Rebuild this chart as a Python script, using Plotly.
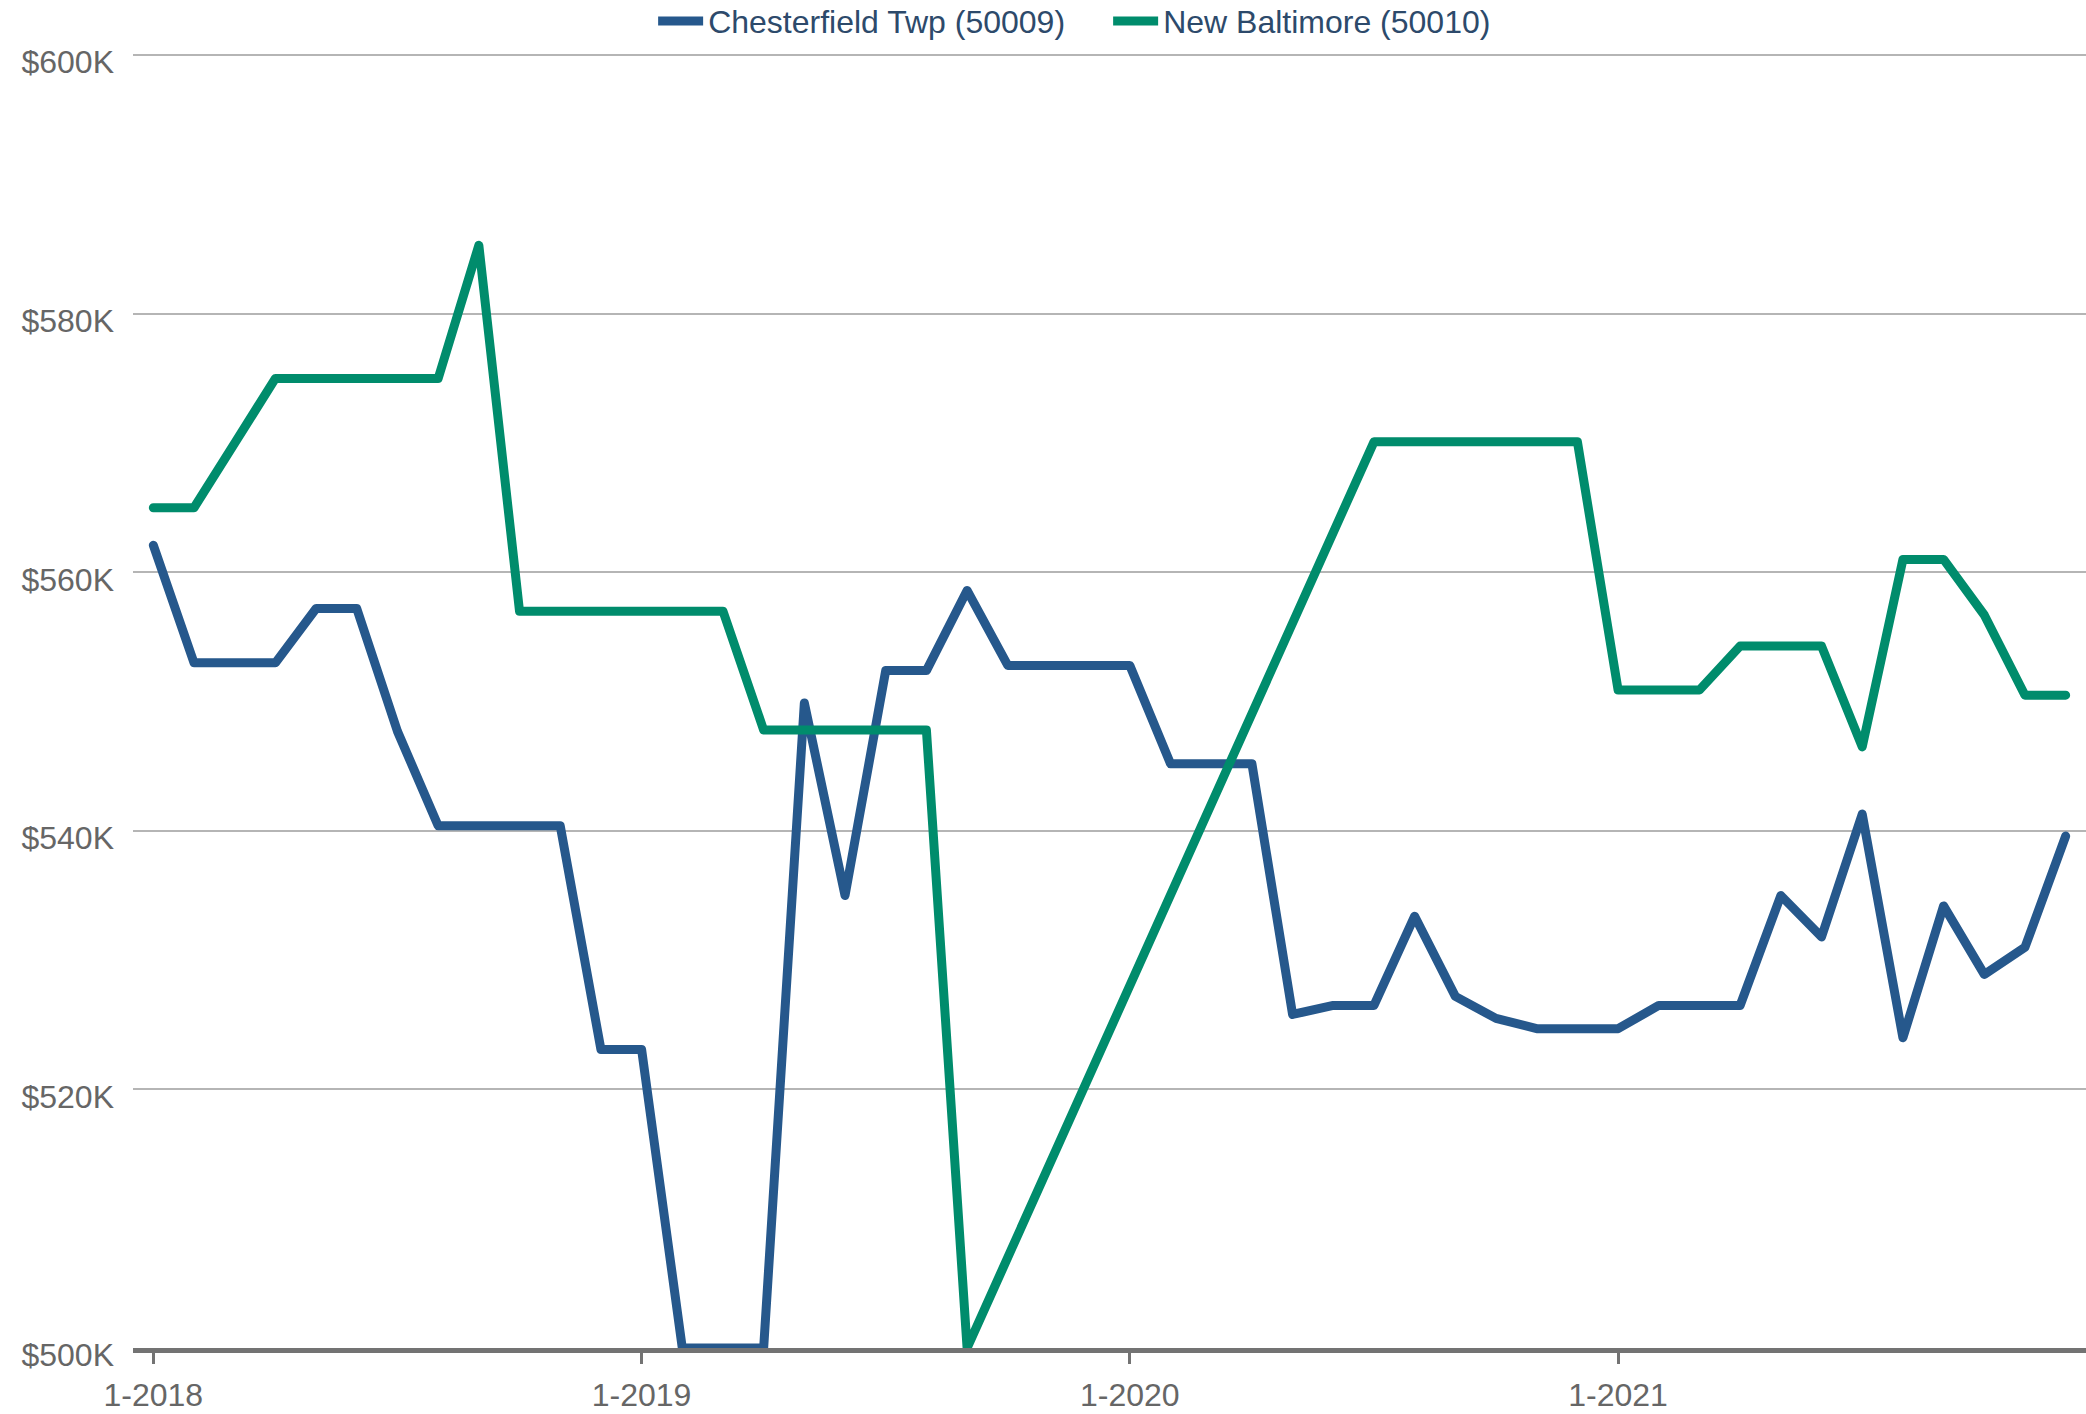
import plotly.graph_objects as go

# Monthly categories, Jan 2018 .. Dec 2021
years = [2018, 2019, 2020, 2021]
months = [f"{m}-{y}" for y in years for m in range(1, 13)]

tick_vals = ["1-2018", "1-2019", "1-2020", "1-2021"]
tick_text = ["1-2018", "1-2019", "1-2020", "1-2021"]

y_tick_vals = [500, 520, 540, 560, 580, 600]
y_tick_text = ["$500K", "$520K", "$540K", "$560K", "$580K", "$600K"]

# Values in $K
chesterfield = [
    562.1, 553.0, 553.0, 553.0, 557.2, 557.2, 547.7, 540.4, 540.4, 540.4, 540.4, 523.1,
    523.1, 500.0, 500.0, 500.0, 549.9, 535.0, 552.4, 552.4, 558.6, 552.8, 552.8, 552.8,
    552.8, 545.2, 545.2, 545.2, 525.8, 526.5, 526.5, 533.4, 527.2, 525.5, 524.7, 524.7,
    524.7, 526.5, 526.5, 526.5, 535.0, 531.8, 541.3, 524.0, 534.2, 528.9, 531.0, 539.6,
]
new_baltimore = [
    565.0, 565.0, 570.0, 575.0, 575.0, 575.0, 575.0, 575.0, 585.3, 557.0, 557.0, 557.0,
    557.0, 557.0, 557.0, 547.8, 547.8, 547.8, 547.8, 547.8, 500.0, None, None, None,
    None, None, None, None, None, None, 570.1, 570.1, 570.1, 570.1, 570.1, 570.1,
    550.9, 550.9, 550.9, 554.3, 554.3, 554.3, 546.5, 561.0, 561.0, 556.7, 550.5, 550.5,
]

series_names = ["Chesterfield Twp (50009)", "New Baltimore (50010)"]
colors = ["#26588C", "#008C6C"]

fig = go.Figure()
for name, vals, col in zip(series_names, [chesterfield, new_baltimore], colors):
    fig.add_trace(go.Scatter(
        x=months, y=vals, mode="lines", name=name,
        line=dict(color=col, width=9), connectgaps=True,
        hoverinfo="skip",
    ))

FONT = "Liberation Sans, Arial, sans-serif"

fig.update_layout(
    width=2086, height=1414,
    margin=dict(l=133, r=0, t=54, b=66, autoexpand=False),
    paper_bgcolor="white", plot_bgcolor="white",
    font=dict(family=FONT, size=32, color="#666666"),
    showlegend=True,
    legend=dict(
        orientation="h", xref="container", yref="container",
        x=0.3131, xanchor="left", y=0.985, yanchor="middle",
        font=dict(family=FONT, size=32, color="#2D4A6B"),
        entrywidth=395, entrywidthmode="pixels",
        itemwidth=45,
        tracegroupgap=0,
    ),
    xaxis=dict(
        type="category", categoryorder="array", categoryarray=months,
        range=[-0.5, 47.5], automargin=False,
        tickmode="array", tickvals=tick_vals, ticktext=tick_text,
        showgrid=False, zeroline=False,
        showline=True, linecolor="#737373", linewidth=5,
        ticks="outside", ticklen=11, tickwidth=3, tickcolor="#737373",
        tickfont=dict(size=32, color="#666666"),
        ticklabelstandoff=4,
        fixedrange=True,
    ),
    yaxis=dict(
        range=[500, 600.1], automargin=False,
        tickmode="array", tickvals=y_tick_vals, ticktext=y_tick_text,
        showgrid=True, gridcolor="#b5b5b5", gridwidth=2,
        zeroline=False, showline=False,
        ticks="", tickfont=dict(size=32, color="#666666"),
        ticklabelstandoff=18, ticklabelshift=7,
        fixedrange=True,
    ),
)

post = """
document.body.style.margin = '0';
document.body.style.overflow = 'hidden';
document.querySelectorAll('.scatterlayer .js-line').forEach(function(p){
  p.style.strokeLinejoin = 'round';
  p.style.strokeLinecap = 'round';
});
"""

fig.write_html("out.html", post_script=post, config={"displayModeBar": False})
